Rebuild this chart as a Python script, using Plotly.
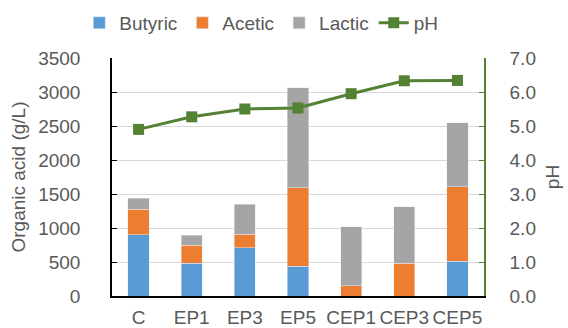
import plotly.graph_objects as go

# Organic acid composition (g/L) and pH per treatment
categories = ["C", "EP1", "EP3", "EP5", "CEP1", "CEP3", "CEP5"]
butyric = [900, 485, 710, 440, 0, 0, 510]
acetic = [375, 260, 200, 1150, 150, 480, 1100]
lactic = [160, 150, 440, 1470, 865, 830, 935]
ph = [4.90, 5.27, 5.50, 5.53, 5.95, 6.33, 6.34]

left_ticks = [0, 500, 1000, 1500, 2000, 2500, 3000, 3500]
right_ticks = [0, 1, 2, 3, 4, 5, 6, 7]

FONT = "Arial, Liberation Sans, sans-serif"
GREY = "#595959"
GREEN = "#548235"
FS = 19

fig = go.Figure()
fig.add_trace(go.Bar(name="Butyric", x=categories, y=butyric, marker_color="#5B9BD5"))
fig.add_trace(go.Bar(name="Acetic", x=categories, y=acetic, marker_color="#ED7D31"))
fig.add_trace(go.Bar(name="Lactic", x=categories, y=lactic, marker_color="#A5A5A5"))
fig.add_trace(go.Scatter(
    name="pH", x=categories, y=ph, yaxis="y2", mode="lines+markers",
    line=dict(color=GREEN, width=3),
    marker=dict(symbol="square", size=11, color=GREEN),
))

fig.update_layout(
    width=568, height=328,
    margin=dict(l=112, r=84, t=58, b=32),
    barmode="stack", bargap=0.6,
    plot_bgcolor="white", paper_bgcolor="white",
    font=dict(family=FONT, size=FS, color=GREY),
    showlegend=True,
    legend=dict(
        orientation="h", xref="container", yref="container",
        x=0.46, y=0.93, xanchor="center", yanchor="middle",
        font=dict(size=FS, color=GREY), itemwidth=30,
        traceorder="normal", tracegroupgap=0,
    ),
    xaxis=dict(
        automargin=False,
        showline=True, linecolor="black", linewidth=1.5,
        tickfont=dict(size=FS, color=GREY), ticks="",
        ticklabelstandoff=3,
    ),
    yaxis=dict(
        automargin=False,
        range=[0, 3500], tickvals=left_ticks,
        showgrid=True, gridcolor="#D9D9D9", gridwidth=1,
        showline=True, linecolor="black", linewidth=1.5,
        ticks="inside", ticklen=5, tickcolor="black",
        tickfont=dict(size=FS, color=GREY), ticklabelstandoff=26,
        title=dict(text="Organic acid (g/L)", font=dict(size=FS, color=GREY), standoff=8),
        zeroline=False,
    ),
    yaxis2=dict(
        automargin=False,
        overlaying="y", side="right", range=[0, 7], tickvals=right_ticks,
        tickformat=".1f", showgrid=False,
        showline=True, linecolor=GREEN, linewidth=1.5,
        ticks="inside", ticklen=5, tickcolor=GREEN,
        tickfont=dict(size=FS, color=GREY), ticklabelstandoff=20,
        title=dict(text="pH", font=dict(size=FS, color=GREY), standoff=11),
        zeroline=False,
    ),
)

fig.write_html("out.html")
